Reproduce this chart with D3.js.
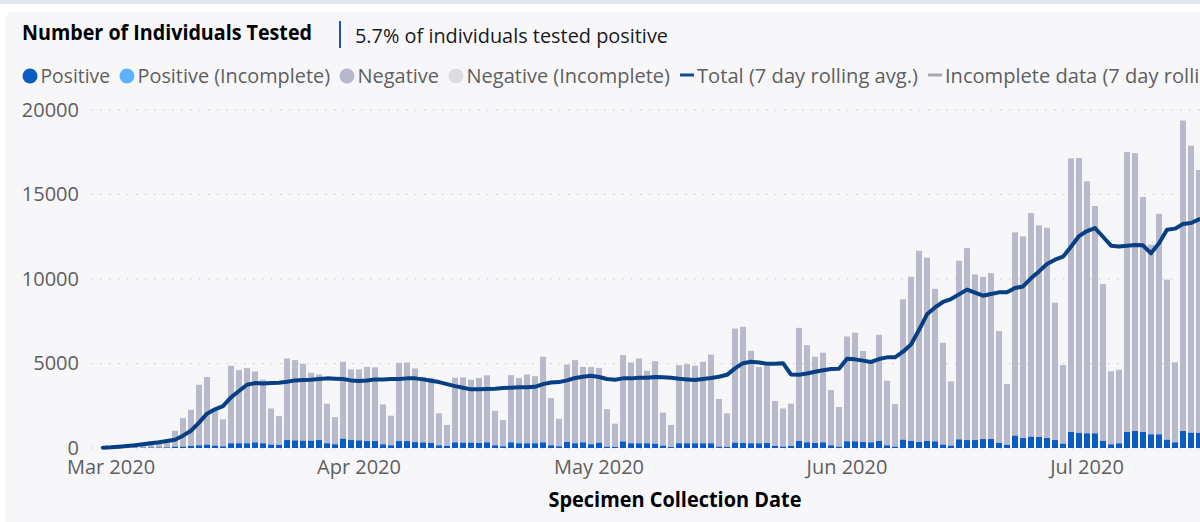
<!DOCTYPE html>
<html>
<head>
<meta charset="utf-8">
<title>Number of Individuals Tested</title>
<script src="https://d3js.org/d3.v7.min.js" charset="utf-8"></script>
<style>
    html, body { margin: 0; padding: 0; background: #fff; overflow: hidden; }
    svg { display: block; font-family: "Open Sans", "Noto Sans", sans-serif; }
    .axis text { font-size: 20px; fill: #605e5c; font-family: "Open Sans", sans-serif; }
    .axis path, .axis line { display: none; }
    .grid line { stroke: #c8c8c8; stroke-width: 1; stroke-dasharray: 1.5 7.5; }
    .legend text { font-size: 20.5px; fill: #605e5c; }
</style>
</head>
<body>
<div id="vis_container"></div>
<script>
    // Daily values, first entry is 29 Feb 2020
    let tested = [
        20, 30, 60, 120, 160, 280, 400, 350, 500, 1020,
        1770, 2260, 3740, 4200, 2200, 1700, 4870, 4610, 4730, 4530,
        4040, 2340, 1890, 5300, 5200, 4980, 4450, 4350, 2620, 1830,
        5100, 4650, 4650, 4800, 4770, 2580, 1910, 5040, 5060, 4710,
        4210, 4150, 2050, 1360, 4160, 4180, 4040, 4140, 4300, 2200,
        1650, 4310, 4140, 4350, 4250, 5400, 2950, 1730, 4940, 5200,
        4800, 4790, 4730, 2300, 1440, 5500, 5060, 5300, 4570, 5140,
        2100, 1360, 4900, 4960, 4870, 5100, 5530, 2900, 2050, 7070,
        7170, 5750, 4790, 4850, 2780, 2340, 2620, 7110, 6090, 5400,
        5640, 3430, 2425, 6600, 6820, 5740, 5100, 6700, 3980, 2600,
        8800, 10130, 11670, 11260, 9420, 6230, 3940, 11080, 11830, 10270,
        10130, 10350, 6920, 3790, 12760, 12520, 13900, 13170, 13030, 8600,
        4910, 17140, 17160, 15780, 14320, 9700, 4540, 4630, 17510, 17450,
        14850, 12030, 13860, 9960, 5070, 19380, 17890, 16450
    ];

    let positive = [
        0, 0, 5, 10, 15, 20, 30, 30, 40, 80,
        80, 120, 160, 200, 140, 100, 280, 280, 280, 330,
        280, 200, 180, 470, 450, 430, 430, 470, 280, 220,
        550, 470, 450, 410, 410, 220, 160, 410, 410, 350,
        330, 300, 160, 120, 335, 315, 315, 300, 335, 160,
        100, 335, 280, 280, 280, 335, 160, 100, 355, 280,
        335, 220, 315, 80, 60, 390, 280, 280, 280, 256,
        140, 60, 280, 280, 280, 280, 280, 80, 60, 315,
        295, 280, 280, 295, 120, 80, 120, 415, 335, 295,
        335, 160, 80, 395, 395, 355, 335, 415, 160, 80,
        490, 415, 355, 415, 395, 200, 140, 510, 470, 470,
        530, 530, 300, 180, 730, 590, 670, 650, 590, 470,
        256, 945, 890, 870, 870, 415, 217, 276, 945, 1005,
        945, 810, 810, 490, 335, 1005, 905, 890
    ];

    let rolling = [
        20, 40, 80, 120, 160, 220, 280, 335, 410, 490,
        730, 1020, 1500, 2030, 2290, 2480, 3000, 3370, 3740, 3840,
        3820, 3840, 3860, 3920, 4000, 4020, 4040, 4080, 4120, 4100,
        4080, 4000, 3960, 4000, 4060, 4060, 4080, 4080, 4120, 4120,
        4060, 3980, 3900, 3780, 3660, 3570, 3470, 3470, 3490, 3510,
        3550, 3570, 3590, 3590, 3620, 3780, 3880, 3900, 4000, 4140,
        4220, 4270, 4200, 4080, 4040, 4120, 4120, 4160, 4160, 4200,
        4180, 4160, 4100, 4060, 4020, 4080, 4140, 4220, 4330, 4710,
        5020, 5100, 5060, 4980, 4980, 5020, 4350, 4330, 4410, 4510,
        4600, 4670, 4690, 5285, 5245, 5170, 5090, 5265, 5365, 5365,
        5700, 6130, 6980, 7910, 8320, 8640, 8815, 9090, 9370, 9190,
        9010, 9110, 9210, 9210, 9465, 9560, 10040, 10450, 10890, 11140,
        11320, 11910, 12540, 12840, 13015, 12500, 11970, 11930, 11970, 12010,
        11990, 11520, 12110, 12920, 12980, 13250, 13310, 13530
    ];

    let y_ticks = [0, 5000, 10000, 15000, 20000];
    let month_starts = [[2020, 2], [2020, 3], [2020, 4], [2020, 5], [2020, 6]];

    let legend_labels = ["Positive", "Positive (Incomplete)", "Negative", "Negative (Incomplete)",
        "Total (7 day rolling avg.)", "Incomplete data (7 day rolling avg.)"];
    let legend_colors = ["#0a5cc4", "#5cb3fb", "#b6b8cb", "#dcdde3", "#0f4c92", "#a9a9ad"];
    let legend_x = [30, 127, 347, 456, 680, 928];

    let width = 1200;
    let height = 522;

    let svg = d3.select("#vis_container")
        .append("svg")
        .attr("width", width)
        .attr("height", height);

    // page background and report panel
    svg.append("rect").attr("width", width).attr("height", 4).attr("fill", "#e3e7ee");
    svg.append("rect")
        .attr("x", 5).attr("y", 12)
        .attr("width", width).attr("height", height)
        .attr("rx", 8)
        .attr("fill", "#f7f7fa");

    let dates = d3.utcDay.range(new Date(Date.UTC(2020, 1, 29)), new Date(Date.UTC(2020, 6, 16)));

    let x = d3.scaleBand()
        .domain(dates)
        .range([99, 99 + dates.length * 8])
        .paddingInner(0.25)
        .paddingOuter(0.125);

    let y = d3.scaleLinear()
        .domain([0, 20000])
        .range([448, 110]);

    // gridlines
    svg.append("g")
        .attr("class", "grid")
        .selectAll("line")
        .data(y_ticks)
        .join("line")
        .attr("x1", 91)
        .attr("x2", width)
        .attr("y1", d => y(d))
        .attr("y2", d => y(d));

    // axes
    svg.append("g")
        .attr("class", "axis")
        .attr("transform", "translate(88,0)")
        .call(d3.axisLeft(y).tickValues(y_ticks).tickFormat(d3.format("d")).tickSize(0).tickPadding(9));

    svg.append("g")
        .attr("class", "axis")
        .attr("transform", "translate(0,456)")
        .call(d3.axisBottom(x)
            .tickValues(month_starts.map(d => new Date(Date.UTC(d[0], d[1], 1))))
            .tickFormat(d3.utcFormat("%b %Y"))
            .tickSize(0)
            .tickPadding(4));

    // stacked bars, negative sits on top of positive
    svg.append("g")
        .selectAll("rect")
        .data(dates)
        .join("rect")
        .attr("x", d => x(d))
        .attr("width", x.bandwidth())
        .attr("y", (d, i) => y(tested[i]))
        .attr("height", (d, i) => y(positive[i]) - y(tested[i]))
        .attr("fill", "#b8b9cb");

    svg.append("g")
        .selectAll("rect")
        .data(dates)
        .join("rect")
        .attr("x", d => x(d))
        .attr("width", x.bandwidth())
        .attr("y", (d, i) => y(positive[i]))
        .attr("height", (d, i) => y(0) - y(positive[i]))
        .attr("fill", "#0a5cc4");

    // rolling average
    let line = d3.line()
        .x((d, i) => x(dates[i]) + x.bandwidth() / 2)
        .y(d => y(d));

    svg.append("path")
        .datum(rolling)
        .attr("d", line)
        .attr("fill", "none")
        .attr("stroke", "#073f85")
        .attr("stroke-width", 4)
        .attr("stroke-linejoin", "round")
        .attr("stroke-linecap", "round");

    // title block
    svg.append("text")
        .attr("x", 22).attr("y", 40)
        .attr("font-size", 21)
        .attr("font-weight", 700)
        .attr("fill", "#000")
        .attr("textLength", 290)
        .attr("lengthAdjust", "spacingAndGlyphs")
        .text("Number of Individuals Tested");

    svg.append("line")
        .attr("x1", 340).attr("x2", 340)
        .attr("y1", 21).attr("y2", 48)
        .attr("stroke", "#1a5aa8")
        .attr("stroke-width", 2);

    svg.append("text")
        .attr("x", 355).attr("y", 43)
        .attr("font-size", 20.5)
        .attr("fill", "#1a1a1a")
        .attr("textLength", 313)
        .attr("lengthAdjust", "spacingAndGlyphs")
        .text("5.7% of individuals tested positive");

    // legend
    let legend = svg.append("g").attr("class", "legend");
    let legend_ends = [110, 330, 439, 670, 918, null];
    legend_labels.forEach(function(label, i) {
        if (i < 4) {
            legend.append("circle")
                .attr("cx", legend_x[i]).attr("cy", 76)
                .attr("r", 7.5)
                .attr("fill", legend_colors[i]);
        } else {
            legend.append("line")
                .attr("x1", legend_x[i]).attr("x2", legend_x[i] + 14)
                .attr("y1", 75).attr("y2", 75)
                .attr("stroke", legend_colors[i])
                .attr("stroke-width", 3);
        }
        let start = i < 4 ? legend_x[i] + 10.5 : legend_x[i] + 17;
        let t = legend.append("text")
            .attr("x", start).attr("y", 83)
            .text(label);
        if (legend_ends[i]) {
            t.attr("textLength", legend_ends[i] - start).attr("lengthAdjust", "spacingAndGlyphs");
        } else {
            // same squeeze as the other labels, runs off the right edge like the original
            t.attr("textLength", 326).attr("lengthAdjust", "spacingAndGlyphs");
        }
    });

    // x axis title
    svg.append("text")
        .attr("x", 675).attr("y", 507)
        .attr("text-anchor", "middle")
        .attr("font-size", 20.5)
        .attr("font-weight", 700)
        .attr("fill", "#000")
        .attr("textLength", 253)
        .attr("lengthAdjust", "spacingAndGlyphs")
        .text("Specimen Collection Date");
</script>
</body>
</html>
